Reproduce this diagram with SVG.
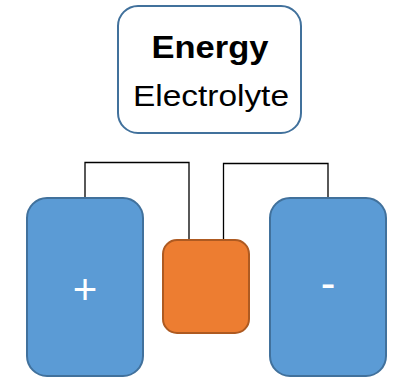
<svg xmlns="http://www.w3.org/2000/svg" width="398" height="378" viewBox="0 0 398 378">
<style>
.elec{fill:#5B9BD5;stroke:#41719C;stroke-width:2}
.sep{fill:#ED7D31;stroke:#AE5A21;stroke-width:2}
.title{fill:#FFFFFF;stroke:#41719C;stroke-width:2}
.wire{fill:none;stroke:#000000;stroke-width:1.3}
.t{font-family:"Liberation Sans",Arial,sans-serif;text-anchor:middle}
</style>
<rect width="398" height="378" fill="#FFFFFF"/>
<g id="connectors">
<polyline class="wire" points="85,198 85,162.5 189,162.5 189,240"/>
<polyline class="wire" points="223.5,240 223.5,163.5 328,163.5 328,198"/>
</g>
<g id="title">
<rect class="title" x="118" y="6" width="183" height="127" rx="20" ry="20"/>
<text class="t" x="210" y="58" font-size="31" font-weight="bold" fill="#000" textLength="117" lengthAdjust="spacingAndGlyphs">Energy</text>
<text class="t" x="211" y="106" font-size="30" fill="#000" textLength="156" lengthAdjust="spacingAndGlyphs">Electrolyte</text>
</g>
<g id="positive">
<rect class="elec" x="27" y="198" width="116" height="178" rx="20" ry="20"/>
<text class="t" x="85" y="303.5" font-size="42" fill="#FFFFFF">+</text>
</g>
<g id="separator">
<rect class="sep" x="163" y="240" width="86" height="93" rx="14" ry="14"/>
</g>
<g id="negative">
<rect class="elec" x="270" y="198" width="116" height="178" rx="20" ry="20"/>
<text class="t" x="328" y="297.5" font-size="44" fill="#FFFFFF">-</text>
</g>
</svg>
